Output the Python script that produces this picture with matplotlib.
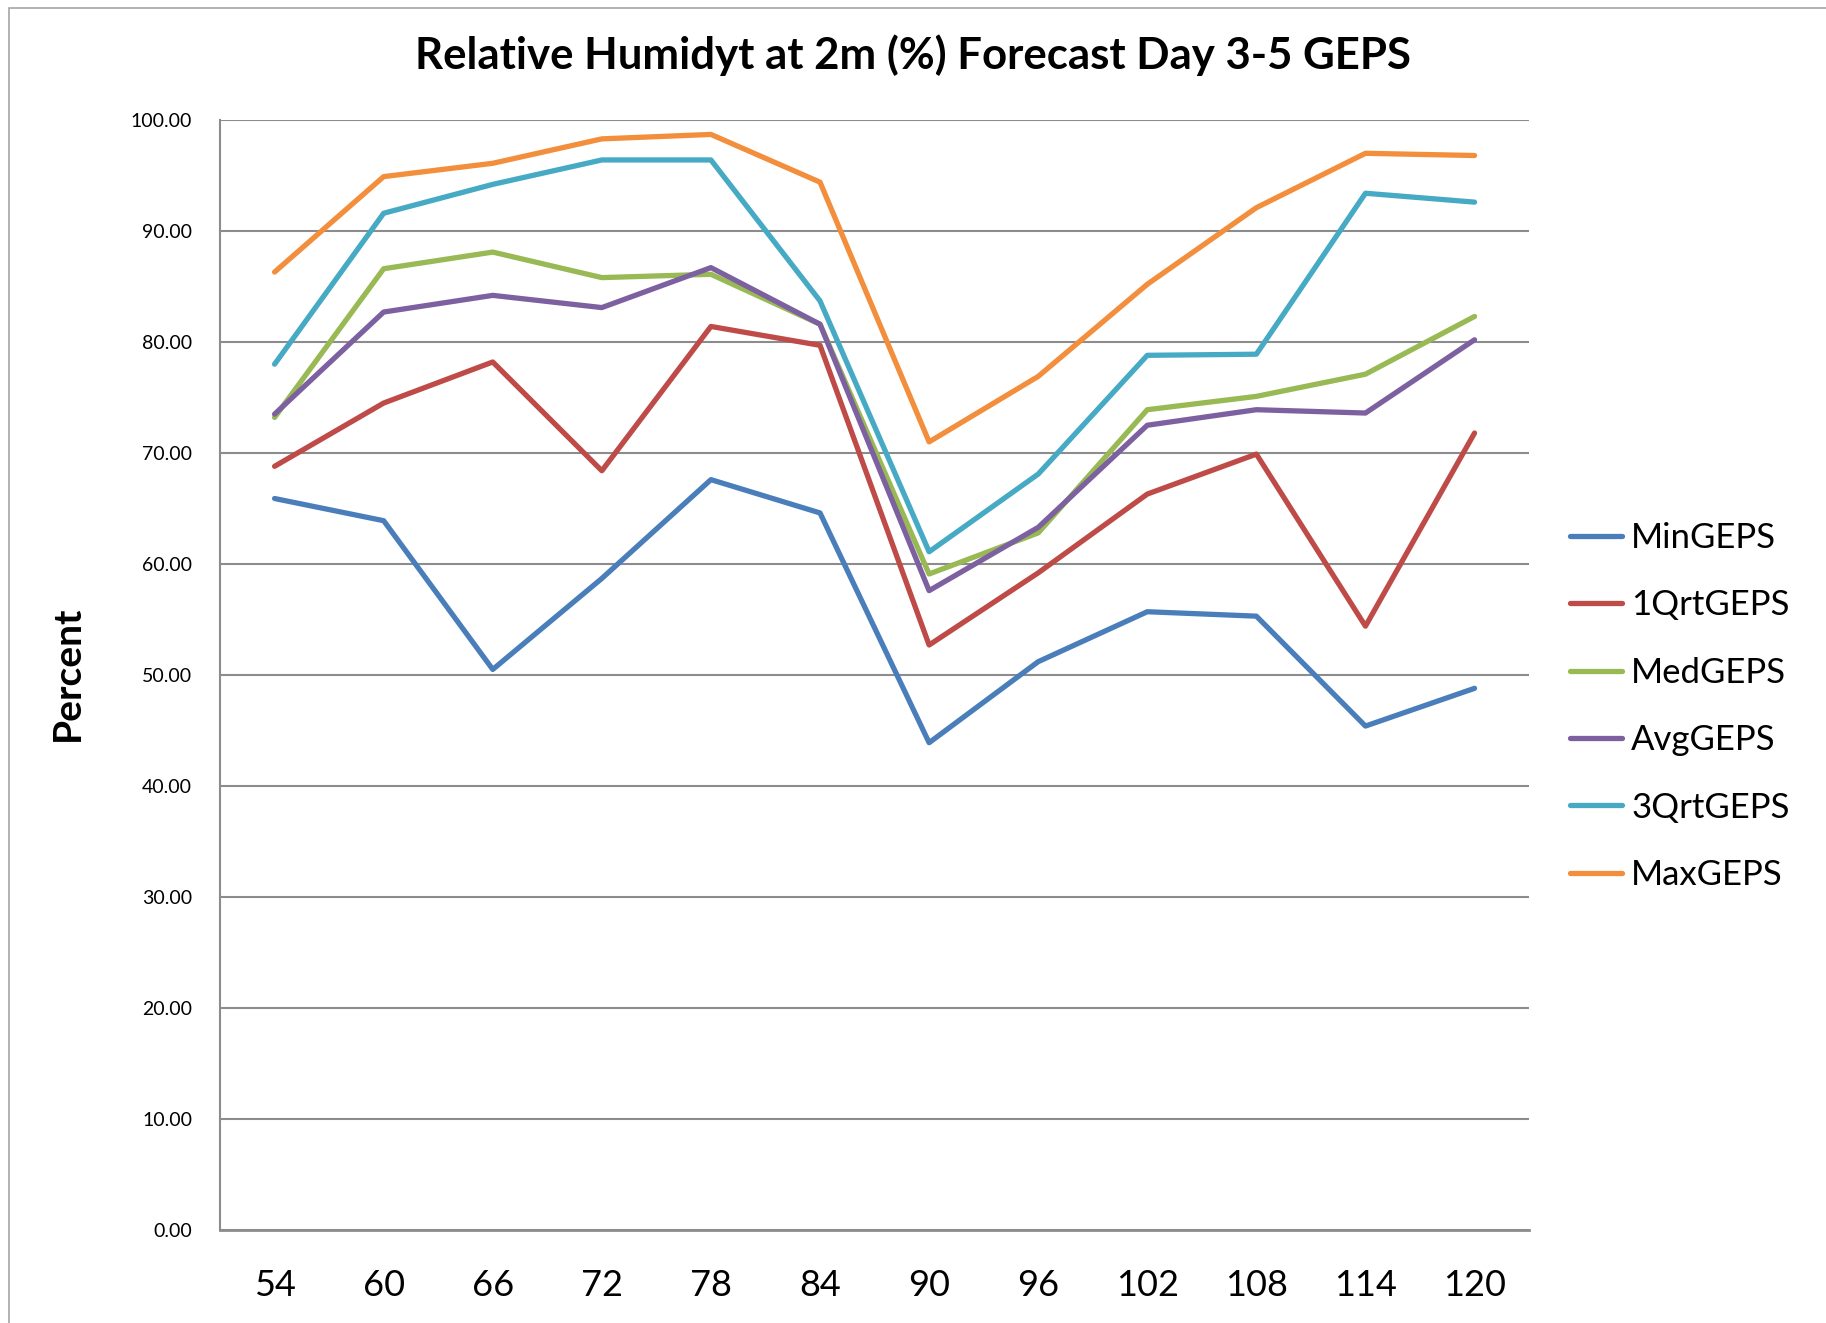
import matplotlib.pyplot as plt
from matplotlib.patches import Rectangle
from matplotlib.ticker import FormatStrFormatter

horas = ['54', '60', '66', '72', '78', '84', '90', '96', '102', '108', '114', '120']

min_geps = [65.9, 63.9, 50.5, 58.7, 67.6, 64.6, 43.9, 51.2, 55.7, 55.3, 45.4, 48.8]
qrt1_geps = [68.8, 74.5, 78.2, 68.4, 81.4, 79.7, 52.7, 59.2, 66.3, 69.9, 54.4, 71.8]
med_geps = [73.2, 86.6, 88.1, 85.8, 86.1, 81.6, 59.1, 62.8, 73.9, 75.1, 77.1, 82.3]
avg_geps = [73.5, 82.7, 84.2, 83.1, 86.7, 81.6, 57.6, 63.3, 72.5, 73.9, 73.6, 80.2]
qrt3_geps = [78.0, 91.6, 94.2, 96.4, 96.4, 83.7, 61.1, 68.1, 78.8, 78.9, 93.4, 92.6]
max_geps = [86.3, 94.9, 96.1, 98.3, 98.7, 94.4, 71.0, 76.9, 85.2, 92.1, 97.0, 96.8]

series = [
    ('MinGEPS', min_geps, '#4A7EBB'),
    ('1QrtGEPS', qrt1_geps, '#BE4B48'),
    ('MedGEPS', med_geps, '#98B954'),
    ('AvgGEPS', avg_geps, '#7D60A0'),
    ('3QrtGEPS', qrt3_geps, '#46AAC5'),
    ('MaxGEPS', max_geps, '#F28E3C'),
]

plt.rcParams['font.family'] = ['Lato', 'DejaVu Sans']

fig = plt.figure(figsize=(18.26, 13.23), dpi=100)
ax = fig.add_axes([0.1205, 0.0703, 0.7169, 0.839])

x = list(range(len(horas)))
for nome, valores, cor in series:
    ax.plot(x, valores, color=cor, linewidth=3.8, label=nome, solid_capstyle='round')

ax.set_xlim(-0.5, len(horas) - 0.5)
ax.set_ylim(0, 100)
ax.set_yticks(range(0, 101, 10))
ax.yaxis.set_major_formatter(FormatStrFormatter('%.2f'))
ax.set_xticks(x)
ax.set_xticklabels(horas)
ax.tick_params(axis='y', length=0, pad=20, labelsize=14)
ax.tick_params(axis='x', length=0, pad=28, labelsize=26)
ax.grid(axis='y', color='#8C8C8C', linewidth=1.5)
ax.set_axisbelow(True)
for lado in ['top', 'right']:
    ax.spines[lado].set_visible(False)
ax.spines['left'].set_color('#8C8C8C')
ax.spines['bottom'].set_color('#8C8C8C')
ax.spines['left'].set_linewidth(1.5)
ax.spines['bottom'].set_linewidth(2)

fig.text(0.5, 0.958, 'Relative Humidyt at 2m (%) Forecast Day 3-5 GEPS',
         ha='center', va='center', fontsize=31.5, fontweight='bold')
fig.text(0.037, 0.491, 'Percent', rotation=90, ha='center', va='center',
         fontsize=28, fontweight='bold')

fig.legend(loc='center left', bbox_to_anchor=(0.86, 0.466), frameon=False,
           fontsize=25, handlelength=1.5, handletextpad=0.25, labelspacing=1.02,
           borderaxespad=0, borderpad=0)

fig.patches.append(Rectangle((0.005, -0.01), 1.0, 1.004, transform=fig.transFigure,
                             fill=False, edgecolor='#A6A6A6', linewidth=1.2))

plt.savefig('out.png', dpi=100)
